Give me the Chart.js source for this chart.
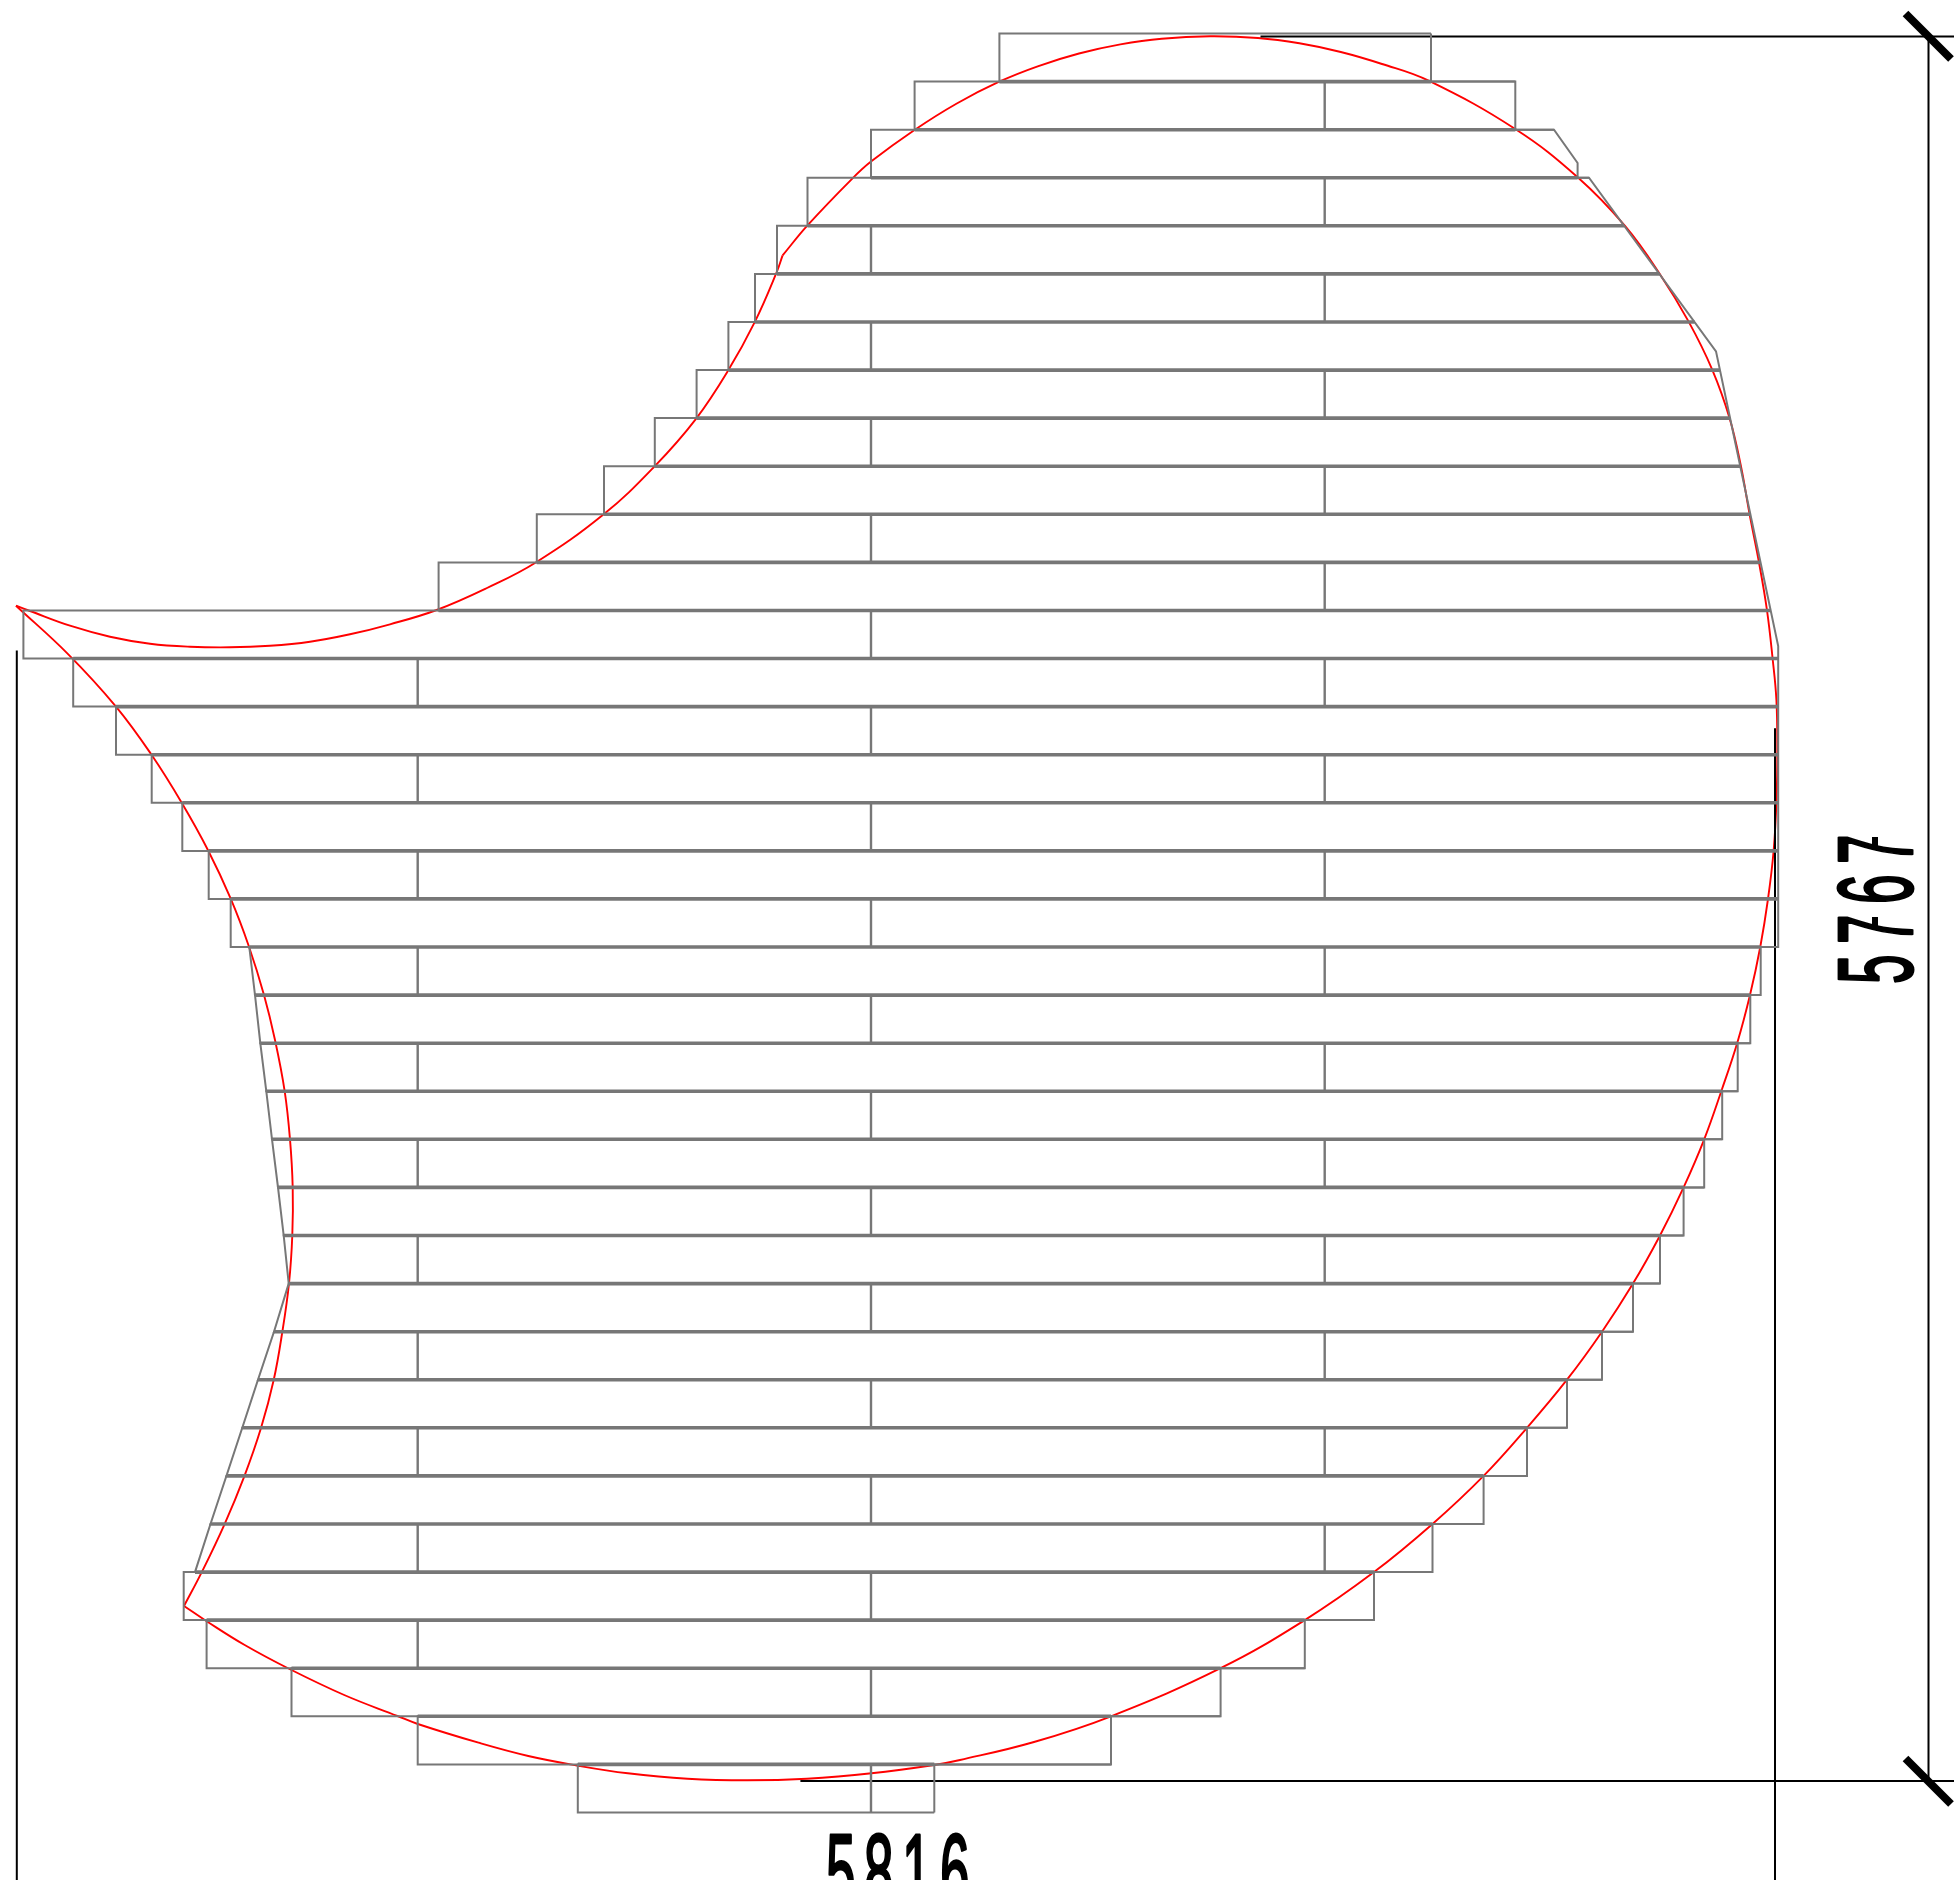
<!DOCTYPE html>
<html>
<head>
<meta charset="utf-8">
<title>Board layout</title>
<script src="https://cdn.jsdelivr.net/npm/chart.js@4"></script>
<style>
  html, body { margin: 0; background: #fff; }
  canvas { display: block; }
</style>
</head>
<body>
<canvas id="plan" width="1954" height="1880"></canvas>
<script>
// all values are in drawing units
const rowLines = [33.5, 81.6, 129.7, 177.7, 225.8, 273.9, 322, 370.1, 418.1, 466.2, 514.3, 562.4, 610.5, 658.5, 706.6, 754.7, 802.8, 850.9, 898.9, 947, 995.1, 1043.2, 1091.3, 1139.3, 1187.4, 1235.5, 1283.6, 1331.7, 1379.7, 1427.8, 1475.9, 1524, 1572.1, 1620.1, 1668.2, 1716.3, 1764.4, 1812.5];

const leftTop = [999.4, 914.6, 871, 807.5, 777, 755, 728.4, 696.6, 654.8, 604, 536.8, 438.6, 23.4, 73.2, 116, 151.7, 182.3, 208.7, 230.7, 249.3, 255, 260.3, 266.3, 272, 278, 283.7, 288.7, 274, 258, 242.3, 226.4, 210.5, 183.7, 206.6, 291.5, 417.7, 577.8];
const leftBottom = [999.4, 914.6, 871, 807.5, 777, 755, 728.4, 696.6, 654.8, 604, 536.8, 438.6, 23.4, 73.2, 116, 151.7, 182.3, 208.7, 230.7, 255, 260.3, 266.3, 272, 278, 283.7, 288.7, 274, 258, 242.3, 226.4, 210.5, 195, 183.7, 206.6, 291.5, 417.7, 577.8];
const rightTop = [1431, 1515.3, 1554, 1589, 1624, 1659.4, 1694.6, 1720, 1730, 1740.2, 1750.3, 1760.5, 1770.6, 1778.2, 1778.2, 1778.2, 1778.2, 1778.2, 1778.2, 1760.7, 1750.3, 1737.7, 1722.2, 1704.2, 1683.6, 1660, 1633, 1602, 1567, 1527, 1483.6, 1432.5, 1374, 1304.8, 1220.6, 1111, 934.3];
const rightBottom = [1431, 1515.3, 1577.6, 1624, 1659.4, 1694.6, 1720, 1730, 1740.2, 1750.3, 1760.5, 1770.6, 1778.2, 1778.2, 1778.2, 1778.2, 1778.2, 1778.2, 1778.2, 1760.7, 1750.3, 1737.7, 1722.2, 1704.2, 1683.6, 1660, 1633, 1602, 1567, 1527, 1483.6, 1432.5, 1374, 1304.8, 1220.6, 1111, 934.3];

// butt joints: which rows have one at which x
const jointLeftX = 417.7;
const jointLeftRows = [13, 15, 17, 19, 21, 23, 25, 27, 29, 31, 33];
const jointMidX = 871;
const jointMidRows = [4, 6, 8, 10, 12, 14, 16, 18, 20, 22, 24, 26, 28, 30, 32, 34, 36];
const jointRightX = 1324.7;
const jointRightRows = [1, 3, 5, 7, 9, 11, 13, 15, 17, 19, 21, 23, 25, 27, 29, 31];

// right hand outline, stepped and chamfered
const outlineX = [1431, 1431, 1515.3, 1515.3, 1554, 1577.6, 1577.6, 1589, 1716, 1778.2, 1778.2, 1760.7, 1760.7, 1750.3, 1750.3, 1737.7, 1737.7, 1722.2, 1722.2, 1704.2, 1704.2, 1683.6, 1683.6, 1660, 1660, 1633, 1633, 1602, 1602, 1567, 1567, 1527, 1527, 1483.6, 1483.6, 1432.5, 1432.5, 1374, 1374, 1304.8, 1304.8, 1220.6, 1220.6, 1111, 1111, 934.3, 934.3];
const outlineY = [33.5, 81.6, 81.6, 129.7, 129.7, 163, 177.7, 177.7, 351.3, 646, 947, 947, 995.1, 995.1, 1043.2, 1043.2, 1091.3, 1091.3, 1139.3, 1139.3, 1187.4, 1187.4, 1235.5, 1235.5, 1283.6, 1283.6, 1331.7, 1331.7, 1379.7, 1379.7, 1427.8, 1427.8, 1475.9, 1475.9, 1524, 1524, 1572.1, 1572.1, 1620.1, 1620.1, 1668.2, 1668.2, 1716.3, 1716.3, 1764.4, 1764.4, 1812.5];

// red room contour, three arcs between its cusps
const arcAX = [16, 30, 70, 110, 150, 190, 230, 270, 310, 350, 390, 436.7, 486, 535.8, 603.7, 654.8, 696, 728.4, 755.1, 776.3, 782.6];
const arcAY = [605.7, 611, 625.7, 636.7, 643.7, 646.7, 647.3, 645.7, 641.7, 634.3, 624.3, 610, 588.5, 562.5, 514.3, 466.1, 418.8, 370.1, 321.4, 273.2, 255.4];
const arcBX = [782.6, 807.5, 852.3, 871, 914.5, 956.8, 999.2, 1037.7, 1079, 1120.4, 1161.7, 1210, 1258, 1299.4, 1340.8, 1382, 1428.6, 1516, 1578.2, 1625, 1659.3, 1688.5, 1712.2, 1729.6, 1740.9, 1749.6, 1759, 1767, 1772.6, 1776.4, 1777.3, 1776.5, 1773.7, 1768, 1760.3, 1750, 1737.3, 1721.7, 1704.2, 1683.6, 1660, 1633, 1602, 1567, 1527, 1483.6, 1432.5, 1374, 1304.8, 1220.6, 1111, 1034, 960, 934.2, 871.5, 806.9, 747.2, 687.5, 627.8, 578, 528.3, 478.5, 417.8, 397.4, 344.2, 289.5, 244.7, 207.4, 184];
const arcBY = [255.4, 225.4, 178.6, 161.6, 130, 103.5, 81.7, 66.3, 53.5, 44.4, 38.7, 36.3, 38, 43.3, 52, 64, 80.7, 129.5, 177.7, 225.9, 273.2, 321.4, 369.6, 418.3, 466, 514.3, 562.5, 610.3, 658.5, 700, 750, 800, 850, 899, 946.7, 995, 1042.7, 1090, 1139.3, 1187.4, 1235.5, 1283.6, 1331.7, 1379.7, 1427.8, 1475.9, 1524, 1572.1, 1620.1, 1668.2, 1716.3, 1742, 1760, 1765, 1773.3, 1778.7, 1780.3, 1778.7, 1773.3, 1765.7, 1756, 1742.7, 1724, 1716, 1695, 1669, 1645, 1621.7, 1606];
const arcCX = [184, 201.5, 224.5, 244.3, 261, 273.7, 282.3, 289, 292.3, 292.7, 290, 284.7, 275, 264, 249, 230.7, 208.3, 181.7, 151.7, 116, 68.3, 16];
const arcCY = [1606, 1572.7, 1524.3, 1476.3, 1428, 1380, 1332, 1283.3, 1235.3, 1187.3, 1139.3, 1091.3, 1040, 995, 946.7, 898.7, 850.7, 802.7, 755, 706.6, 654.3, 605.7];

// dimension lines
const extLeftX = [16.8, 16.8], extLeftY = [650.4, 1880];
const extRightX = [1775, 1775], extRightY = [728.3, 1880];
const dimX = [1928.5, 1928.5], dimY = [36.2, 1781];
const extTopX = [1260.5, 1954], extTopY = [36.5, 36.5];
const extBottomX = [800.4, 1954], extBottomY = [1781, 1781];
const tickTopX = [1905.5, 1951], tickTopY = [13.5, 59];
const tickBottomX = [1905.5, 1951], tickBottomY = [1758.5, 1804];
// the CAD font crosses its sevens
const barUpperX = [1875, 1875], barUpperY = [837, 850];
const barLowerX = [1875, 1875], barLowerY = [917, 930];
const widthLabel = "5816";
const heightLabel = "5767";

const grey = "#777777";

function pts(xs, ys) {
  return xs.map((x, i) => ({ x: x, y: ys[i] }));
}

function line(data, colr, width, tension) {
  return { data: data, borderColor: colr, borderWidth: width, showLine: true, pointRadius: 0, tension: tension || 0, fill: false };
}

let datasets = [];

// each row: top edge, left edge, bottom edge
for (let i = 0; i < leftTop.length; i++) {
  datasets.push(line([
    { x: rightTop[i], y: rowLines[i] },
    { x: leftTop[i], y: rowLines[i] },
    { x: leftBottom[i], y: rowLines[i + 1] },
    { x: rightBottom[i], y: rowLines[i + 1] }
  ], grey, 2));
}

// where two rows share an edge the line prints heavier
for (let i = 1; i < leftTop.length; i++) {
  let from = Math.max(leftBottom[i - 1], leftTop[i]);
  let to = Math.min(rightBottom[i - 1], rightTop[i]);
  datasets.push(line([{ x: from, y: rowLines[i] }, { x: to, y: rowLines[i] }], grey, 3.6));
}

function addJoints(x, rows) {
  rows.forEach(r => {
    datasets.push(line([{ x: x, y: rowLines[r] }, { x: x, y: rowLines[r + 1] }], grey, 2.4));
  });
}
addJoints(jointLeftX, jointLeftRows);
addJoints(jointMidX, jointMidRows);
addJoints(jointRightX, jointRightRows);

datasets.push(line(pts(outlineX, outlineY), grey, 2));

datasets.push(line(pts(extLeftX, extLeftY), "#000", 2));
datasets.push(line(pts(extRightX, extRightY), "#000", 2));
datasets.push(line(pts(dimX, dimY), "#000", 2));
datasets.push(line(pts(extTopX, extTopY), "#000", 2));
datasets.push(line(pts(extBottomX, extBottomY), "#000", 2));
datasets.push(line(pts(tickTopX, tickTopY), "#000", 8));
datasets.push(line(pts(tickBottomX, tickBottomY), "#000", 8));
datasets.push(line(pts(barUpperX, barUpperY), "#000", 6));
datasets.push(line(pts(barLowerX, barLowerY), "#000", 6));

datasets.push(line(pts(arcAX, arcAY), "#ff0000", 1.9, 0.4));
datasets.push(line(pts(arcBX, arcBY), "#ff0000", 1.9, 0.4));
datasets.push(line(pts(arcCX, arcCY), "#ff0000", 1.9, 0.4));

// dimension figures, the font is squeezed and spaced out like the narrow CAD lettering
function drawFigure(ctx, text, spacing) {
  ctx.scale(0.5, 1);
  ctx.letterSpacing = spacing + "px";
  ctx.fillText(text, 0, 0);
  ctx.strokeText(text, 0, 0);
}

const dimLabels = {
  id: "dimLabels",
  afterDatasetsDraw(chart) {
    const ctx = chart.ctx;
    const sx = chart.scales.x, sy = chart.scales.y;
    ctx.save();
    ctx.fillStyle = "#000";
    ctx.strokeStyle = "#000";
    ctx.lineWidth = 3;
    ctx.lineJoin = "round";
    ctx.font = '106px "Liberation Sans Narrow", "Liberation Sans", sans-serif';
    ctx.textBaseline = "alphabetic";
    ctx.textAlign = "left";

    ctx.save();
    ctx.translate(sx.getPixelForValue(826), sy.getPixelForValue(1908));
    drawFigure(ctx, widthLabel, 17);
    ctx.restore();

    ctx.translate(sx.getPixelForValue(1912), sy.getPixelForValue(984));
    ctx.rotate(-Math.PI / 2);
    drawFigure(ctx, heightLabel, 21);
    ctx.restore();
  }
};

new Chart(document.getElementById("plan"), {
  type: "scatter",
  data: { datasets: datasets },
  options: {
    responsive: false,
    animation: false,
    devicePixelRatio: 1,
    layout: { padding: 0 },
    plugins: { legend: { display: false }, tooltip: { enabled: false } },
    scales: {
      x: { type: "linear", min: 0, max: 1954, display: false },
      y: { type: "linear", min: 0, max: 1880, reverse: true, display: false }
    }
  },
  plugins: [dimLabels]
});
</script>
</body>
</html>
